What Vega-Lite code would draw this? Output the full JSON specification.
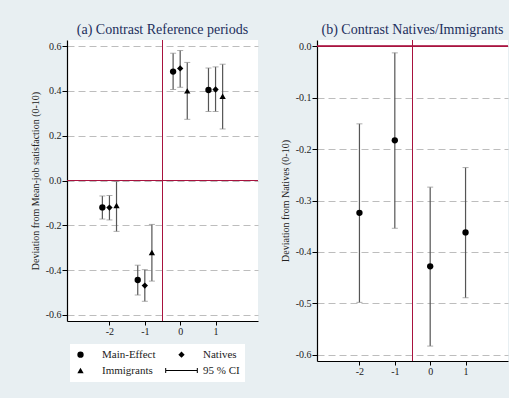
{
  "$schema": "https://vega.github.io/schema/vega-lite/v6.json",
  "background": "#e8eff2",
  "padding": {"left": 30, "top": 22, "right": 0, "bottom": 21},
  "datasets": {
    "a": [
      {"series": "Main-Effect", "period": -2, "x": -2.2, "y": -0.12, "lo": -0.172, "hi": -0.069},
      {"series": "Main-Effect", "period": -1, "x": -1.2, "y": -0.444, "lo": -0.511, "hi": -0.378},
      {"series": "Main-Effect", "period": 0, "x": -0.2, "y": 0.486, "lo": 0.406, "hi": 0.568},
      {"series": "Main-Effect", "period": 1, "x": 0.8, "y": 0.404, "lo": 0.308, "hi": 0.502},
      {"series": "Natives", "period": -2, "x": -2.0, "y": -0.121, "lo": -0.176, "hi": -0.067},
      {"series": "Natives", "period": -1, "x": -1.0, "y": -0.469, "lo": -0.539, "hi": -0.398},
      {"series": "Natives", "period": 0, "x": 0.0, "y": 0.5, "lo": 0.416, "hi": 0.58},
      {"series": "Natives", "period": 1, "x": 1.0, "y": 0.406, "lo": 0.308, "hi": 0.507},
      {"series": "Immigrants", "period": -2, "x": -1.8, "y": -0.112, "lo": -0.227, "hi": -0.004},
      {"series": "Immigrants", "period": -1, "x": -0.8, "y": -0.321, "lo": -0.449, "hi": -0.196},
      {"series": "Immigrants", "period": 0, "x": 0.2, "y": 0.4, "lo": 0.273, "hi": 0.527},
      {"series": "Immigrants", "period": 1, "x": 1.2, "y": 0.376, "lo": 0.23, "hi": 0.519}
    ],
    "b": [
      {"x": -2, "y": -0.324, "lo": -0.498, "hi": -0.151},
      {"x": -1, "y": -0.183, "lo": -0.354, "hi": -0.013},
      {"x": 0, "y": -0.428, "lo": -0.583, "hi": -0.274},
      {"x": 1, "y": -0.362, "lo": -0.489, "hi": -0.236}
    ]
  },
  "spacing": 59,
  "bounds": "flush",
  "hconcat": [
    {
      "width": 191,
      "height": 281,
      "title": {"text": "(a) Contrast Reference periods"},
      "data": {"name": "a"},
      "layer": [
        {
          "mark": {"type": "rule", "color": "#a8123e", "strokeWidth": 1},
          "encoding": {
            "y": {"datum": 0, "type": "quantitative",
              "scale": {"domain": [-0.627, 0.627], "nice": false, "zero": false},
              "axis": {"title": "Deviation from Mean-job satisfaction (0-10)", "values": [-0.6, -0.4, -0.2, 0, 0.2, 0.4, 0.6], "labelExpr": "replace(format(datum.value, '.1f'), '\u2212', '-')"}}
          }
        },
        {
          "mark": {"type": "rule", "color": "#a8123e", "strokeWidth": 1},
          "encoding": {
            "x": {"datum": -0.5, "type": "quantitative",
              "scale": {"domain": [-3.2, 2.2], "nice": false, "zero": false},
              "axis": {"title": null, "values": [-2, -1, 0, 1], "labelExpr": "replace(format(datum.value, 'd'), '\u2212', '-')", "grid": false}}
          }
        },
        {
          "mark": {"type": "rule", "color": "#555555", "strokeWidth": 1.2},
          "encoding": {
            "x": {"field": "x", "type": "quantitative"},
            "y": {"field": "lo", "type": "quantitative"},
            "y2": {"field": "hi"}
          }
        },
        {
          "mark": {"type": "tick", "orient": "horizontal", "size": 6, "thickness": 1, "color": "#8a8a8a"},
          "encoding": {
            "x": {"field": "x", "type": "quantitative"},
            "y": {"field": "lo", "type": "quantitative"}
          }
        },
        {
          "mark": {"type": "tick", "orient": "horizontal", "size": 6, "thickness": 1, "color": "#8a8a8a"},
          "encoding": {
            "x": {"field": "x", "type": "quantitative"},
            "y": {"field": "hi", "type": "quantitative"}
          }
        },
        {
          "mark": {"type": "point", "filled": true, "color": "black", "opacity": 1, "size": 40},
          "encoding": {
            "x": {"field": "x", "type": "quantitative"},
            "y": {"field": "y", "type": "quantitative"},
            "shape": {
              "field": "series", "type": "nominal",
              "scale": {
                "domain": ["Main-Effect", "Immigrants", "Natives", "95 % CI"],
                "range": ["circle", "triangle-up", "diamond", "M-5,-0.16L5,-0.16L5,0.16L-5,0.16Z M-5.16,-0.8L-4.84,-0.8L-4.84,0.8L-5.16,0.8Z M4.84,-0.8L5.16,-0.8L5.16,0.8L4.84,0.8Z"]
              },
              "legend": {
                "title": null,
                "orient": "none",
                "legendX": 3,
                "legendY": 304,
                "columns": 2,
                "columnPadding": 6,
                "rowPadding": 3,
                "padding": 5,
                "fillColor": "white",
                "strokeColor": null,
                "symbolSize": 40,
                "symbolFillColor": "#111111",
                "symbolOpacity": 1,
                "labelFontSize": 11,
                "labelColor": "#222222",
                "labelOffset": 16
              }
            }
          }
        }
      ]
    },
    {
      "width": 191,
      "height": 321,
      "title": {"text": "(b) Contrast Natives/Immigrants"},
      "data": {"name": "b"},
      "layer": [
        {
          "mark": {"type": "rule", "color": "#a8123e", "strokeWidth": 1},
          "encoding": {
            "y": {"datum": 0, "type": "quantitative",
              "scale": {"domain": [-0.612, 0.012], "nice": false, "zero": false},
              "axis": {"title": "Deviation from Natives (0-10)", "values": [-0.6, -0.5, -0.4, -0.3, -0.2, -0.1, 0], "labelExpr": "replace(format(datum.value, '.1f'), '\u2212', '-')"}}
          }
        },
        {
          "mark": {"type": "rule", "color": "#a8123e", "strokeWidth": 1},
          "encoding": {
            "x": {"datum": -0.5, "type": "quantitative",
              "scale": {"domain": [-3.2, 2.2], "nice": false, "zero": false},
              "axis": {"title": null, "values": [-2, -1, 0, 1], "labelExpr": "replace(format(datum.value, 'd'), '\u2212', '-')", "grid": false}}
          }
        },
        {
          "mark": {"type": "rule", "color": "#555555", "strokeWidth": 1.2},
          "encoding": {
            "x": {"field": "x", "type": "quantitative"},
            "y": {"field": "lo", "type": "quantitative"},
            "y2": {"field": "hi"}
          }
        },
        {
          "mark": {"type": "tick", "orient": "horizontal", "size": 6, "thickness": 1, "color": "#8a8a8a"},
          "encoding": {
            "x": {"field": "x", "type": "quantitative"},
            "y": {"field": "lo", "type": "quantitative"}
          }
        },
        {
          "mark": {"type": "tick", "orient": "horizontal", "size": 6, "thickness": 1, "color": "#8a8a8a"},
          "encoding": {
            "x": {"field": "x", "type": "quantitative"},
            "y": {"field": "hi", "type": "quantitative"}
          }
        },
        {
          "mark": {"type": "point", "filled": true, "color": "black", "opacity": 1, "size": 40, "shape": "circle"},
          "encoding": {
            "x": {"field": "x", "type": "quantitative"},
            "y": {"field": "y", "type": "quantitative"}
          }
        }
      ]
    }
  ],
  "config": {
    "font": "Liberation Serif",
    "view": {"stroke": null, "fill": "white"},
    "title": {"fontSize": 14, "fontWeight": "normal", "color": "#1c2e5c", "offset": 3, "anchor": "middle", "font": "Liberation Serif"},
    "axis": {
      "domainColor": "black",
      "domainWidth": 1.2,
      "tickColor": "black",
      "tickWidth": 1,
      "labelColor": "#222222",
      "labelFontSize": 10,
      "labelFont": "Liberation Serif",
      "titleFont": "Liberation Serif",
      "titleFontSize": 10,
      "titleFontWeight": "normal",
      "titleColor": "#222222",
      "gridColor": "#bdbdbd",
      "gridDash": [7, 4],
      "gridWidth": 1
    },
    "axisY": {"tickSize": 5, "labelPadding": 1, "titlePadding": 5, "grid": true},
    "axisX": {"tickSize": 4, "labelPadding": 1, "grid": false}
  }
}
